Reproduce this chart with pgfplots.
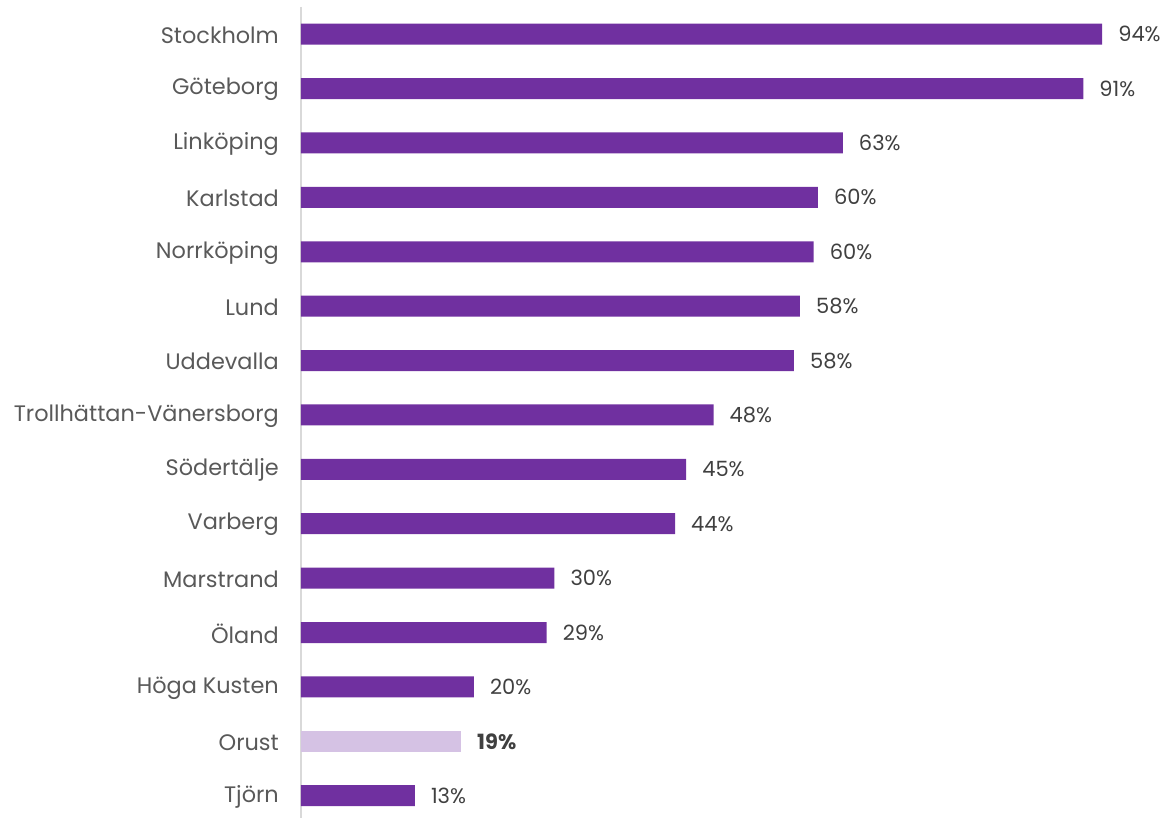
\documentclass[border=0pt]{standalone}
\usepackage{fontspec}
\setmainfont{Poppins}
\usepackage{pgfplots}
\pgfplotsset{compat=1.18}
\definecolor{barpurple}{RGB}{112,48,160}
\definecolor{barlight}{RGB}{213,194,228}
\definecolor{lbl}{RGB}{89,89,89}
\definecolor{vlbl}{RGB}{64,64,64}
\definecolor{axgray}{RGB}{217,217,217}
\begin{document}
\begin{tikzpicture}
\begin{axis}[
  scale only axis,
  width=867pt, height=811pt,
  xmin=0, xmax=101.3,
  ymin=-0.5, ymax=14.41,
  y dir=reverse,
  xbar, bar width=21pt, bar shift=0pt,
  axis x line=none,
  axis y line*=left,
  y axis line style={draw=axgray, line width=1.5pt, -},
  ytick={0,...,14},
  yticklabels={Stockholm,Göteborg,Linköping,Karlstad,Norrköping,Lund,Uddevalla,Trollhättan-Vänersborg,Södertälje,Varberg,Marstrand,Öland,Höga Kusten,Orust,Tjörn},
  major tick length=0pt,
  yticklabel style={font=\fontsize{22.4}{26}\selectfont, text=lbl, inner sep=0pt, anchor=east, xshift=-22pt, yshift=-1pt},
  /pgf/number format/assume math mode=true,
  nodes near coords={\pgfmathprintnumber[fixed,precision=0,assume math mode=true]{\pgfplotspointmeta}\%},
  every node near coord/.append style={font=\fontsize{21}{25}\selectfont, text=vlbl, anchor=west, inner sep=0pt, xshift=16pt},
  clip=false,
]
\addplot[fill=barpurple, draw=none] coordinates {
 (93.6,0) (91.4,1) (63.3,2) (60.4,3) (59.9,4) (58.3,5) (57.6,6) (48.2,7)
 (45.0,8) (43.7,9) (29.6,10) (28.7,11) (20.2,12) (13.3,14)
};
\addplot[fill=barlight, draw=none, every node near coord/.append style={font=\fontsize{21}{25}\selectfont\bfseries}] coordinates {
 (18.7,13)
};
\coordinate (O) at (axis description cs:0,0);
\end{axis}
\pgfresetboundingbox
\path[use as bounding box] (O) ++(-301pt,0) rectangle ++(1168pt,818pt);
\end{tikzpicture}
\end{document}
